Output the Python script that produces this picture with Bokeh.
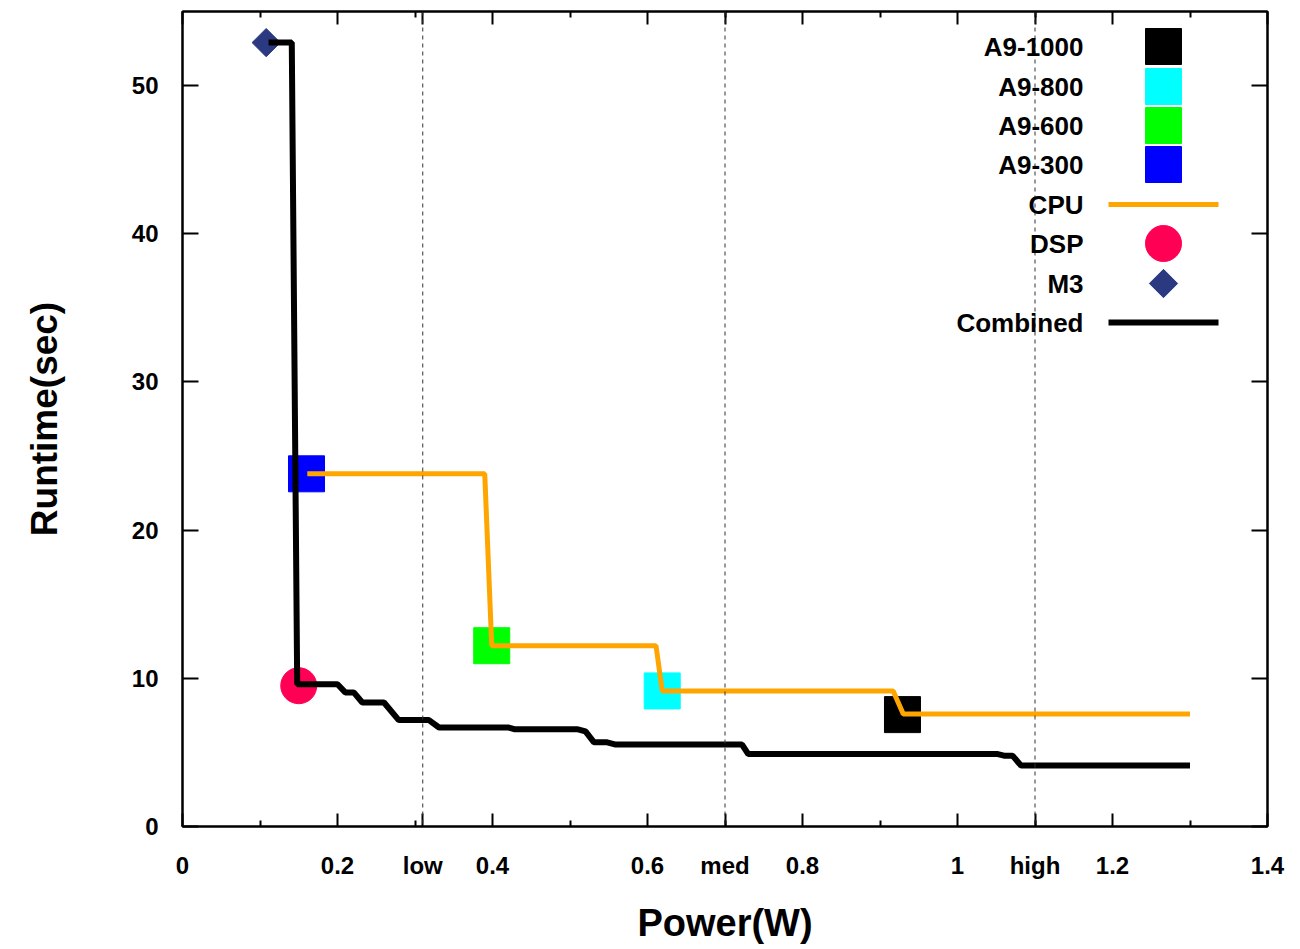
from bokeh.plotting import figure
from bokeh.models import FixedTicker, LinearAxis, Label, Span, Range1d, CustomJSTickFormatter
from bokeh.embed import file_html
from bokeh.resources import INLINE
import numpy as np

# ---------------- data ----------------
a9_labels = ["A9-1000", "A9-800", "A9-600", "A9-300"]
a9_power = [0.929, 0.619, 0.399, 0.160]
a9_runtime = [7.55, 9.15, 12.2, 23.8]
a9_colors = ["#000000", "#00ffff", "#00ff00", "#0000ff"]

cpu_power = [0.161, 0.390, 0.399, 0.611, 0.619, 0.917, 0.930, 1.30]
cpu_runtime = [23.8, 23.8, 12.2, 12.2, 9.15, 9.15, 7.6, 7.6]

dsp_power = [0.150]
dsp_runtime = [9.5]

m3_power = [0.108]
m3_runtime = [52.9]

combined_power = [0.111, 0.141, 0.148, 0.200, 0.210, 0.221, 0.232, 0.260, 0.279,
                  0.318, 0.331, 0.421, 0.428, 0.509, 0.520, 0.531, 0.548, 0.559,
                  0.722, 0.730, 1.052, 1.060, 1.071, 1.082, 1.30]
combined_runtime = [52.9, 52.9, 9.6, 9.6, 9.05, 9.05, 8.37, 8.37, 7.18,
                    7.18, 6.68, 6.68, 6.57, 6.57, 6.42, 5.68, 5.68, 5.53,
                    5.53, 4.89, 4.89, 4.78, 4.78, 4.11, 4.11]

level_names = ["low", "med", "high"]
level_power = [0.31, 0.70, 1.10]

x_major = [0, 0.2, 0.4, 0.6, 0.8, 1.0, 1.2, 1.4]
x_minor = [0.1, 0.3, 0.5, 0.7, 0.9, 1.1, 1.3]
y_major = [0, 10, 20, 30, 40, 50]

# ---------------- layout ----------------
FONT = "Liberation Sans"
FL, FT, FW, FH = 182, 11, 1085, 815
XMAX, YMAX = 1.4, 55

p = figure(frame_width=FW, frame_height=FH,
           x_range=Range1d(0, XMAX), y_range=Range1d(0, YMAX),
           output_backend="svg", toolbar_location=None,
           min_border_left=FL, min_border_right=1300 - FL - FW,
           min_border_top=FT, min_border_bottom=949 - FT - FH,
           background_fill_color="white", border_fill_color="white")
p.grid.visible = False
p.outline_line_color = "black"
p.outline_line_width = 2

x_ticks = x_major + level_power
overrides = {}
for v in x_major:
    overrides[v] = "0" if v == 0 else ("1" if v == 1.0 else f"{v:g}")
for n, v in zip(level_names, level_power):
    overrides[v] = n

def style_axis(ax, tick_len, show_labels):
    ax.axis_line_color = "black"
    ax.axis_line_width = 2
    ax.major_tick_in = tick_len
    ax.major_tick_out = 0
    ax.major_tick_line_width = 2
    ax.minor_tick_in = 6
    ax.minor_tick_out = 0
    ax.minor_tick_line_width = 2
    ax.major_label_text_font = FONT
    ax.major_label_text_font_style = "bold"
    ax.major_label_text_font_size = "24px"
    ax.major_label_text_color = "black"
    if not show_labels:
        ax.formatter = CustomJSTickFormatter(code="return ''")
        ax.major_label_standoff = 0

xa = p.xaxis[0]
xa.ticker = FixedTicker(ticks=x_ticks, minor_ticks=x_minor)
xa.major_label_overrides = overrides
style_axis(xa, 13, True)
xa.major_label_standoff = 25
xa.axis_label = "Power(W)"
xa.axis_label_text_font = FONT
xa.axis_label_text_font_style = "bold"
xa.axis_label_text_font_size = "38px"
xa.axis_label_text_color = "black"
xa.axis_label_standoff = 20

ya = p.yaxis[0]
ya.ticker = FixedTicker(ticks=y_major)
style_axis(ya, 16, True)
ya.major_label_standoff = 24
ya.axis_label = "Runtime(sec)"
ya.axis_label_text_font = FONT
ya.axis_label_text_font_style = "bold"
ya.axis_label_text_font_size = "37px"
ya.axis_label_text_color = "black"
ya.axis_label_standoff = 64

top = LinearAxis(ticker=FixedTicker(ticks=x_ticks, minor_ticks=x_minor))
style_axis(top, 13, False)
p.add_layout(top, "above")
right = LinearAxis(ticker=FixedTicker(ticks=y_major))
style_axis(right, 16, False)
p.add_layout(right, "right")

# level markers
for v in level_power:
    p.add_layout(Span(location=v, dimension="height", line_color="#333333",
                      line_width=1, line_dash="4 4"))

# ---------------- glyphs ----------------
p.scatter(a9_power, a9_runtime, marker="square", size=36, color=a9_colors)
p.line(cpu_power, cpu_runtime, line_color="#ffa500", line_width=5)
p.scatter(dsp_power, dsp_runtime, marker="circle", size=36, color="#ff0055")
p.scatter(m3_power, m3_runtime, marker="square", size=20, angle=np.pi / 4,
          color="#2b3a80")
p.line(combined_power, combined_runtime, line_color="black", line_width=6)

# ---------------- legend (drawn manually, label left / sample right) ----------------
def dx(px):
    return (px - FL) / FW * XMAX

def dy(py):
    return (FT + FH - py) / FH * YMAX

legend_rows = [46, 86, 125, 164, 204, 243, 283, 322]
legend_names = a9_labels + ["CPU", "DSP", "M3", "Combined"]
for name, row in zip(legend_names, legend_rows):
    p.add_layout(Label(x=dx(1083), y=dy(row), text=name, text_align="right",
                       text_baseline="middle", text_font=FONT,
                       text_font_style="bold", text_font_size="26px",
                       text_color="black"))
mx = dx(1163)
p.scatter([mx] * 4, [dy(r) for r in legend_rows[:4]], marker="square", size=36,
          color=a9_colors)
p.line([dx(1108), dx(1218)], [dy(legend_rows[4])] * 2, line_color="#ffa500", line_width=5)
p.scatter([mx], [dy(legend_rows[5])], marker="circle", size=36, color="#ff0055")
p.scatter([mx], [dy(legend_rows[6])], marker="square", size=20, angle=np.pi / 4,
          color="#2b3a80")
p.line([dx(1108), dx(1218)], [dy(legend_rows[7])] * 2, line_color="black", line_width=6)

open("out.html", "w").write(file_html(p, INLINE))
